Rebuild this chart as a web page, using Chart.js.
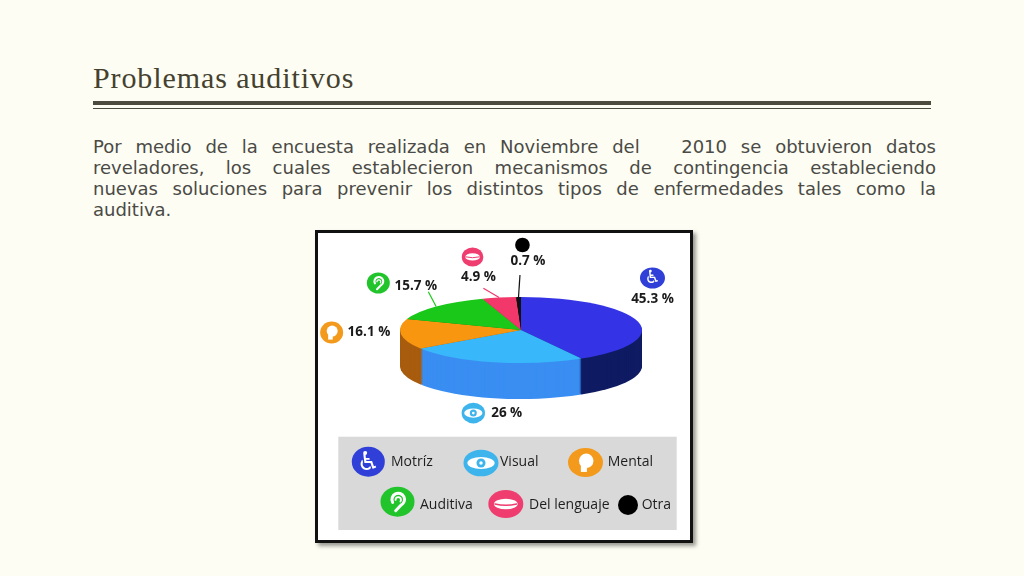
<!DOCTYPE html>
<html lang="es">
<head>
<meta charset="utf-8">
<title>Problemas auditivos</title>
<script src="https://cdn.jsdelivr.net/npm/chart.js@4.4.1/dist/chart.umd.min.js"></script>
<style>
  html, body { margin: 0; padding: 0; }
  body { width: 1024px; height: 576px; background: #fdfdf3; position: relative; overflow: hidden; }
  h1 { position: absolute; left: 93px; top: 61px; margin: 0; font: 400 30px/34px "Liberation Serif", serif; letter-spacing: 0.9px; color: #45412f; }
  .rule { position: absolute; left: 93px; width: 838px; background: #4d4a3e; }
  .texto { position: absolute; left: 93px; top: 136px; width: 843px; font: 400 18px/21px "DejaVu Sans", sans-serif; color: #4a4a46; }
  .texto div { height: 21px; white-space: nowrap; text-align: justify; text-align-last: justify; }
  .texto div.last { text-align-last: left; }
  .marco { position: absolute; left: 315px; top: 230px; width: 378px; height: 313px; box-sizing: border-box; border: 3px solid #111; background: #fff; box-shadow: 3px 3px 4px rgba(0, 0, 0, 0.4); }
  .lienzo { position: absolute; left: 0; top: 0; width: 372px; height: 307px; }
</style>
</head>
<body>
<h1>Problemas auditivos</h1>
<div class="rule" style="top:101px;height:4px"></div>
<div class="rule" style="top:108px;height:1px"></div>
<div class="texto">
  <div>Por medio de la encuesta realizada en Noviembre del&nbsp;&nbsp; 2010 se obtuvieron datos</div>
  <div>reveladores, los cuales establecieron mecanismos de contingencia estableciendo</div>
  <div>nuevas soluciones para prevenir los distintos tipos de enfermedades tales como la</div>
  <div class="last">auditiva.</div>
</div>
<div class="marco">
  <div class="lienzo"><canvas id="grafico"></canvas></div>
</div>
<script>
  // datos
  const categorias = ["Motríz", "Visual", "Mental", "Auditiva", "Del lenguaje", "Otra"];
  const porcentajes = [45.3, 26, 16.1, 15.7, 4.9, 0.7];

  const colorSup = ["#3434e6", "#38b8fa", "#f99610", "#1ac81a", "#f2386b", "#111111"];
  const colorLado = ["#0f1b62", "#3a8ef2", "#a85c0e", "#0f7d0f", "#a8254a", "#000000"];
  const colorIcono = ["#2f3fd8", "#3db4ec", "#f39a1c", "#22c42c", "#ee3d6e", "#000000"];

  // pastel inclinado
  const INCLINA = 0.273;
  const GROSOR = 36;
  const CENTRO_Y = 97;

  // rotulos: t = texto respecto al borde, i = icono respecto al texto, l = inicio de la guia
  const POS_ROTULO = [
    { t: [14.6, -22.5], i: [0, -21], s: [12.5, 10.5] },
    { t: [13.1, 50.9], i: [-33.4, 0], s: [11.7, 10.3] },
    { t: [-32, -2.2], i: [-37.3, 0.5], s: [11.5, 11] },
    { t: [-20.3, -20.5], i: [-37.5, -3], s: [11.5, 10.5], l: [12.5, 5.7] },
    { t: [-20.7, -20.6], i: [-5.8, -20], s: [10.8, 9.5], l: [5, 11.3] },
    { t: [9.4, -35.5], i: [-5.5, -16.5], s: [7.3, 7.3], l: [-8, 13.5] },
  ];

  const CAJA_LEYENDA = [20.3, 203.7, 338.4, 93.3];
  const POS_LEYENDA = [
    { c: [50.3, 228.7], s: [16.5, 15], x: 73 },
    { c: [163, 230], s: [17.5, 13.3], x: 182 },
    { c: [267.5, 229.5], s: [17.5, 14.5], x: 289.7 },
    { c: [79.5, 268.7], s: [17, 15], x: 102 },
    { c: [187.8, 271], s: [17.5, 14], x: 211 },
    { c: [310, 272], s: [10, 10], x: 323.7 },
  ];

  function dibujaIcono(ctx, i, x, y, rx, ry, color) {
    ctx.save();
    ctx.fillStyle = color;
    ctx.beginPath();
    ctx.ellipse(x, y, rx, ry, 0, 0, Math.PI * 2);
    ctx.fill();
    const r = Math.min(rx, ry);
    ctx.fillStyle = "#fff";
    ctx.strokeStyle = "#fff";
    ctx.lineCap = "round";
    if (i === 0) {
      ctx.font = "bold " + Math.round(r * 1.75) + 'px "DejaVu Sans"';
      ctx.textAlign = "center";
      ctx.textBaseline = "middle";
      ctx.fillText("\u267F", x, y + r * 0.08);
    } else if (i === 1) {
      ctx.beginPath();
      ctx.ellipse(x, y, rx * 0.78, ry * 0.45, 0, 0, Math.PI * 2);
      ctx.fill();
      ctx.fillStyle = color;
      ctx.beginPath();
      ctx.arc(x, y, r * 0.34, 0, Math.PI * 2);
      ctx.fill();
      ctx.fillStyle = "#fff";
      ctx.beginPath();
      ctx.arc(x, y, r * 0.13, 0, Math.PI * 2);
      ctx.fill();
    } else if (i === 2) {
      ctx.beginPath();
      ctx.arc(x + r * 0.05, y - r * 0.12, r * 0.5, 0, Math.PI * 2);
      ctx.fill();
      ctx.fillRect(x - r * 0.32, y + r * 0.2, r * 0.42, r * 0.45);
    } else if (i === 3) {
      ctx.lineWidth = r * 0.2;
      ctx.beginPath();
      ctx.arc(x + r * 0.05, y - r * 0.15, r * 0.42, Math.PI * 0.85, Math.PI * 0.35);
      ctx.lineTo(x - r * 0.12, y + r * 0.6);
      ctx.stroke();
      ctx.lineWidth = r * 0.12;
      ctx.beginPath();
      ctx.arc(x + r * 0.05, y - r * 0.12, r * 0.18, Math.PI, Math.PI * 0.2);
      ctx.stroke();
    } else if (i === 4) {
      ctx.beginPath();
      ctx.ellipse(x, y, rx * 0.68, ry * 0.38, 0, 0, Math.PI * 2);
      ctx.fill();
      ctx.strokeStyle = color;
      ctx.lineWidth = Math.max(1, r * 0.1);
      ctx.beginPath();
      ctx.moveTo(x - rx * 0.62, y);
      ctx.quadraticCurveTo(x, y + ry * 0.18, x + rx * 0.62, y);
      ctx.stroke();
    }
    ctx.restore();
  }

  const pastel3d = {
    id: "pastel3d",
    beforeDatasetsDraw(chart) {
      const ctx = chart.ctx;
      const arcos = chart.getDatasetMeta(0).data;
      const cy = arcos[0].y;
      for (let d = GROSOR; d > 0; d--) {
        ctx.save();
        ctx.translate(0, CENTRO_Y + d);
        ctx.scale(1, INCLINA);
        ctx.translate(0, -cy);
        arcos.forEach((a, i) => {
          ctx.beginPath();
          ctx.moveTo(a.x, a.y);
          ctx.arc(a.x, a.y, a.outerRadius, a.startAngle, a.endAngle);
          ctx.closePath();
          ctx.fillStyle = colorLado[i];
          ctx.fill();
        });
        ctx.restore();
      }
      ctx.save();
      ctx.translate(0, CENTRO_Y);
      ctx.scale(1, INCLINA);
      ctx.translate(0, -cy);
    },
    afterDatasetsDraw(chart) {
      chart.ctx.restore();
    },
  };

  const rotulos = {
    id: "rotulos",
    afterDraw(chart) {
      const ctx = chart.ctx;
      const arcos = chart.getDatasetMeta(0).data;
      const valores = chart.data.datasets[0].data;

      ctx.save();
      arcos.forEach((a, i) => {
        const medio = (a.startAngle + a.endAngle) / 2;
        const bx = a.x + a.outerRadius * Math.cos(medio);
        const by = CENTRO_Y + INCLINA * a.outerRadius * Math.sin(medio);
        const p = POS_ROTULO[i];
        const tx = bx + p.t[0];
        const ty = by + p.t[1];
        if (p.l) {
          ctx.strokeStyle = colorSup[i];
          ctx.lineWidth = 1.2;
          ctx.beginPath();
          ctx.moveTo(tx + p.l[0], ty + p.l[1]);
          ctx.lineTo(bx, by);
          ctx.stroke();
        }
        dibujaIcono(ctx, i, tx + p.i[0], ty + p.i[1], p.s[0], p.s[1], colorIcono[i]);
        ctx.fillStyle = "#1a1a1a";
        ctx.font = '700 13.5px "Open Sans"';
        ctx.textAlign = "center";
        ctx.textBaseline = "middle";
        ctx.fillText(valores[i] + " %", tx, ty);
      });

      // leyenda
      ctx.fillStyle = "#d9d9d9";
      ctx.fillRect(...CAJA_LEYENDA);
      chart.data.labels.forEach((nombre, i) => {
        const p = POS_LEYENDA[i];
        dibujaIcono(ctx, i, p.c[0], p.c[1], p.s[0], p.s[1], colorIcono[i]);
        ctx.fillStyle = "#1e1e1e";
        ctx.font = '400 14px "Open Sans"';
        ctx.textAlign = "left";
        ctx.textBaseline = "middle";
        ctx.fillText(nombre, p.x, i < 3 ? 229.5 : 272);
      });
      ctx.restore();
    },
  };

  new Chart(document.getElementById("grafico"), {
    type: "pie",
    data: {
      labels: categorias,
      datasets: [
        {
          data: porcentajes,
          backgroundColor: colorSup,
          borderWidth: 0,
          hoverOffset: 0,
        },
      ],
    },
    options: {
      responsive: true,
      maintainAspectRatio: false,
      animation: false,
      events: [],
      layout: {
        padding: { left: 82, right: 48, top: 0, bottom: 65 },
      },
      plugins: {
        legend: { display: false },
        tooltip: { enabled: false },
      },
    },
    plugins: [pastel3d, rotulos],
  });
</script>
</body>
</html>
